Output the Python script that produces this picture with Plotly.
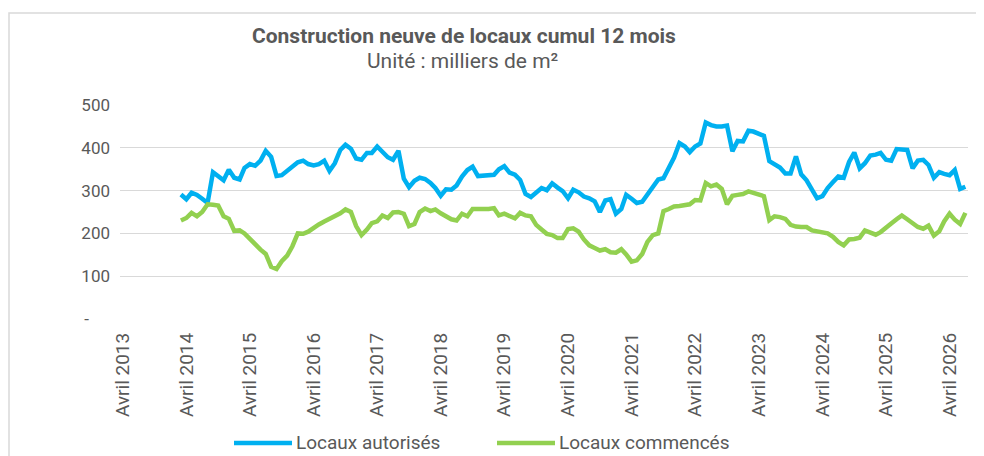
import pandas as pd
import plotly.graph_objects as go

# Monthly data, March 2014 -> July 2026 (thousands of m², 12-month cumulative)
start_month = "2014-03-01"
autorises = [
    291, 280, 295, 290, 281, 271, 343, 332, 324, 349, 330, 326, 353, 362, 358, 370,
    393, 379, 334, 336, 347, 358, 366, 370, 362, 359, 362, 370, 346, 364, 395, 407,
    398, 375, 372, 388, 388, 403, 389, 378, 372, 393, 328, 308, 323, 330, 327, 318,
    306, 288, 303, 302, 312, 333, 348, 356, 334, 335, 338, 337, 350, 357, 342, 337,
    325, 292, 285, 297, 306, 301, 317, 307, 299, 282, 302, 296, 286, 282, 275, 250,
    277, 280, 246, 257, 290, 281, 271, 274, 291, 308, 326, 329, 352, 377, 411, 403,
    390, 403, 410, 459, 453, 450, 450, 452, 392, 416, 415, 440, 438, 432, 428, 369,
    361, 354, 340, 340, 380, 338, 324, 303, 282, 287, 306, 320, 333, 330, 367, 389,
    352, 364, 382, 384, 388, 372, 370, 397, 396, 395, 352, 370, 372, 360, 330, 343,
    339, 336, 348, 304, 309,
]
commences = [
    230, 236, 248, 240, 250, 268, 267, 265, 240, 234, 206, 207, 200, 187, 172, 162,
    152, 122, 117, 135, 148, 170, 200, 199, 204, 214, 221, 228, 234, 239, 247, 256,
    250, 217, 196, 209, 224, 228, 242, 236, 249, 250, 246, 217, 222, 250, 258, 252,
    256, 247, 240, 233, 230, 246, 240, 257, 257, 256, 257, 259, 242, 246, 240, 235,
    248, 242, 240, 220, 209, 199, 196, 189, 189, 210, 212, 204, 186, 172, 166, 160,
    163, 156, 155, 163, 151, 134, 137, 152, 180, 196, 200, 252, 257, 263, 264, 265,
    268, 278, 277, 318, 310, 314, 304, 268, 288, 290, 292, 298, 295, 292, 287, 231,
    240, 238, 234, 220, 216, 215, 215, 207, 205, 203, 200, 192, 180, 172, 186, 187,
    190, 207, 203, 197, 203, 212, 223, 233, 242, 233, 223, 215, 211, 218, 195, 205,
    228, 246, 232, 222, 248,
]
series_names = ["Locaux autorisés", "Locaux commencés"]
tick_years = list(range(2013, 2027))
tick_labels = [f"Avril {y}" for y in tick_years]
y_ticks = [0, 100, 200, 300, 400, 500]
y_labels = ["-\u00a0\u00a0\u00a0\u00a0\u00a0", "100", "200", "300", "400", "500"]

months = pd.date_range(start_month, periods=len(autorises), freq="MS")

BLUE = "#00B0F0"
GREEN = "#92D050"
TXT = "#595959"
FONT = "Roboto"

fig = go.Figure()
fig.add_trace(go.Scatter(x=months, y=autorises, mode="lines", name=series_names[0],
                         line=dict(color=BLUE, width=4.5), showlegend=False))
fig.add_trace(go.Scatter(x=months, y=commences, mode="lines", name=series_names[1],
                         line=dict(color=GREEN, width=4.5), showlegend=False))

# The page body has an 8px margin: the figure is drawn 8px in from the window corner.
OFF = 8
W, H = 984 - OFF, 456 - OFF
L, R, T, B = 120 - OFF, 968 - OFF, 105 - OFF, 319 - OFF
pw, ph = R - L, B - T

def px(x):  # window pixel -> paper coord
    return (x - OFF - L) / pw

def py(y):
    return (B - (y - OFF)) / ph

legend_items = [(series_names[0], BLUE, 234, 292), (series_names[1], GREEN, 497, 555)]
shapes = [
    dict(type="rect", xref="paper", yref="paper", x0=px(9), x1=px(990), y0=py(470), y1=py(13),
         line=dict(color="#D9D9D9", width=1.5), fillcolor="rgba(0,0,0,0)", layer="below"),
]
annotations = [
    dict(text="<b>Construction neuve de locaux cumul 12 mois</b>", xref="paper", yref="paper",
         x=px(464), y=py(36), xanchor="center", yanchor="middle", showarrow=False,
         font=dict(family=FONT, size=21, color=TXT)),
    dict(text="Unité : milliers de m²", xref="paper", yref="paper",
         x=px(462), y=py(61), xanchor="center", yanchor="middle", showarrow=False,
         font=dict(family=FONT, size=21, color=TXT)),
]
for name, col, x0, x1 in legend_items:
    shapes.append(dict(type="line", xref="paper", yref="paper", x0=px(x0), x1=px(x1),
                       y0=py(443), y1=py(443), line=dict(color=col, width=4.5)))
    annotations.append(dict(text=name, xref="paper", yref="paper", x=px(x1 + 2), y=py(443),
                            xanchor="left", yanchor="middle", showarrow=False,
                            font=dict(family=FONT, size=19, color=TXT)))

fig.update_layout(
    width=W, height=H, autosize=False,
    margin=dict(l=L, r=W - R, t=T, b=H - B, pad=0, autoexpand=False),
    paper_bgcolor="white", plot_bgcolor="white",
    font=dict(family=FONT, color=TXT),
    showlegend=False,
    xaxis=dict(
        type="date",
        range=["2013-03-16", "2026-07-16"],
        tickvals=[f"{y}-04-01" for y in tick_years],
        ticktext=tick_labels,
        tickangle=-90,
        tickfont=dict(family=FONT, size=19, color=TXT),
        showgrid=False, zeroline=False, showline=False, ticks="",
        ticklabelstandoff=9, automargin=False,
    ),
    yaxis=dict(
        range=[0, 500],
        tickvals=y_ticks, ticktext=y_labels,
        tickfont=dict(family=FONT, size=17, color=TXT),
        showgrid=True, gridcolor="#D9D9D9", gridwidth=1.3,
        zeroline=False, showline=False, ticks="",
        ticklabelstandoff=9, automargin=False,
    ),
    annotations=annotations,
    shapes=shapes,
)

fig.write_html("out.html")
